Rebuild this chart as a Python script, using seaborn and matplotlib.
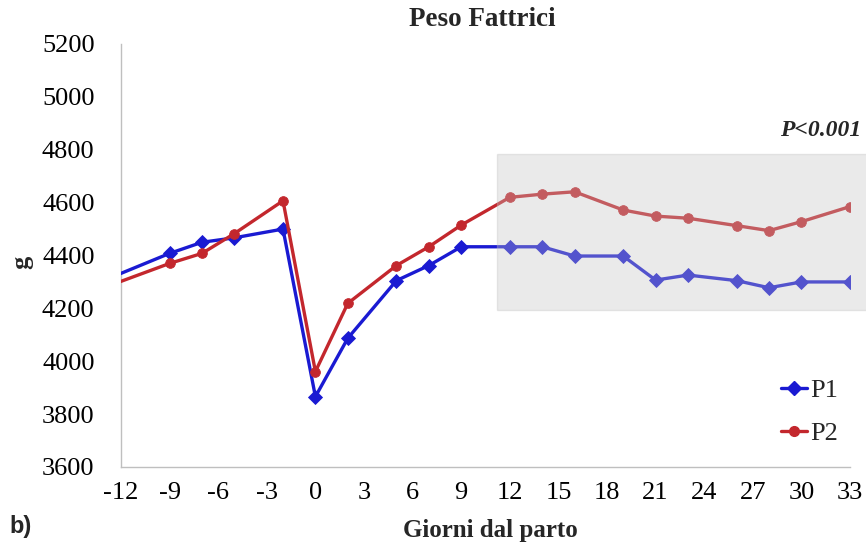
import numpy as np
import pandas as pd
import matplotlib
matplotlib.use("Agg")
import matplotlib.pyplot as plt
from matplotlib.patches import Rectangle
from matplotlib.lines import Line2D
import seaborn as sns

# ---- data ----
days = [-14, -9, -7, -5, -2, 0, 2, 5, 7, 9, 12, 14, 16, 19, 21, 23, 26, 28, 30, 33]
p1 = [4282, 4408, 4450, 4467, 4500, 3866, 4087, 4305, 4362, 4433, 4433, 4433, 4398,
      4398, 4307, 4326, 4305, 4278, 4300, 4300]
p2 = [4257, 4370, 4408, 4483, 4607, 3961, 4219, 4362, 4433, 4515, 4620, 4632, 4641,
      4572, 4549, 4541, 4513, 4494, 4528, 4585]
series_names = ["P1", "P2"]
x_ticks = list(range(-12, 34, 3))
y_ticks = list(range(3600, 5201, 200))
title = "Peso Fattrici"
xlabel = "Giorni dal parto"
ylabel = "g"
pvalue_text = "P<0.001"
panel_label = "b)"

df = pd.DataFrame({
    "day": days * 2,
    "peso": p1 + p2,
    "gruppo": [series_names[0]] * len(days) + [series_names[1]] * len(days),
})

sns.set_theme(style="white")
plt.rcParams["font.family"] = ["Liberation Serif", "DejaVu Serif"]

fig = plt.figure(figsize=(8.66, 5.43), dpi=100)
ax = fig.add_axes([121 / 866, 1 - 467 / 543, (850 - 121) / 866, (467 - 44) / 543])

blue = "#1a1ad2"
red = "#c3272d"
palette = {"P1": blue, "P2": red}
markers = {"P1": "D", "P2": "o"}

sns.lineplot(data=df, x="day", y="peso", hue="gruppo", style="gruppo",
             palette=palette, markers=markers, dashes=False, linewidth=2.4,
             markersize=7, markeredgewidth=0.6, ax=ax, legend=False,
             clip_on=True, zorder=3)
for line, name in zip(ax.lines, series_names):
    line.set_markeredgecolor(palette[name])

# gray translucent region on top
rect = Rectangle((11.2, 4194), 23.0, 590, facecolor="#c4c4c4", alpha=0.34,
                 edgecolor="#bdbdbd", linewidth=1.0, zorder=5, clip_on=False)
ax.add_patch(rect)

ax.set_xlim(-12, 33)
ax.set_ylim(3600, 5200)
ax.set_xticks(x_ticks)
ax.set_yticks(y_ticks)
ax.set_xticklabels([str(t) for t in x_ticks])
ax.set_yticklabels([str(t) for t in y_ticks])
ax.set_xlabel("")
ax.set_ylabel("")

for s in ["top", "right"]:
    ax.spines[s].set_visible(False)
for s in ["left", "bottom"]:
    ax.spines[s].set_color("#bfbfbf")
    ax.spines[s].set_linewidth(1.0)

ax.tick_params(axis="both", which="major", direction="out", length=6,
               width=1.0, color="#bfbfbf", labelsize=19, labelcolor="black")
ax.tick_params(axis="y", pad=13)
ax.tick_params(axis="x", pad=5)
ax.grid(False)

# legend
handles = [Line2D([0], [0], color=palette[n], marker=markers[n], lw=2.4,
                  markersize=7, markeredgecolor=palette[n])
           for n in series_names]
leg = fig.legend(handles, series_names, loc="upper left",
                 bbox_to_anchor=(781 / 866, 1 - 379 / 543), frameon=False,
                 fontsize=19, handlelength=1.0, handletextpad=0.1,
                 labelspacing=0.72, borderpad=0, borderaxespad=0)

# texts
fig.text(482 / 866, 1 - 20 / 543, title, ha="center", va="center",
         fontsize=19.5, fontweight="bold")
fig.text(490 / 866, 1 - 531 / 543, xlabel, ha="center", va="center",
         fontsize=18, fontweight="bold")
fig.text(22 / 866, 1 - 262 / 543, ylabel, ha="center", va="center",
         fontsize=19, fontweight="bold", rotation=90)
fig.text(821 / 866, 1 - 130 / 543, pvalue_text, ha="center", va="center",
         fontsize=17, fontweight="bold", fontstyle="italic")
fig.text(9 / 866, 1 - 527 / 543, panel_label, ha="left", va="center",
         fontsize=17, fontweight="bold", family=["Liberation Sans", "DejaVu Sans"])

fig.savefig("out.png", dpi=100)
